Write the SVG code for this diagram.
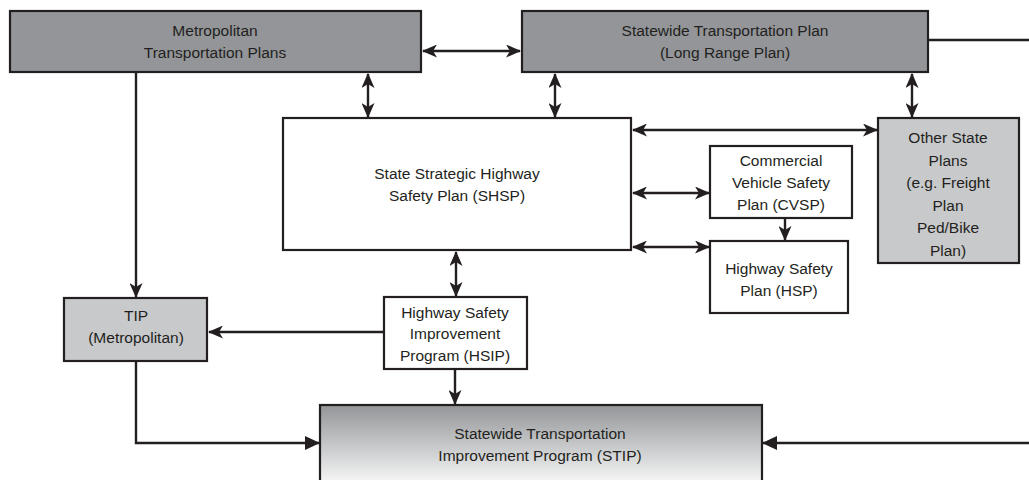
<svg xmlns="http://www.w3.org/2000/svg" width="1029" height="480" viewBox="0 0 1029 480">
<defs>
<style>
.box{stroke:#231f20;stroke-width:2.2}
.dark{fill:#939598}
.light{fill:#c8c9cb}
.white{fill:#ffffff}
text{font-family:"Liberation Sans",Arial,sans-serif;font-size:15.5px;fill:#231f20;text-anchor:middle}
.c{fill:none;stroke:#231f20;stroke-width:2.4}
</style>
<linearGradient id="g" x1="0" y1="0" x2="0" y2="1">
<stop offset="0" stop-color="#939598"/>
<stop offset="1" stop-color="#ffffff"/>
</linearGradient>
<marker id="ah" viewBox="0 0 15 13" refX="14" refY="6.5" markerWidth="15" markerHeight="13" markerUnits="userSpaceOnUse" orient="auto-start-reverse">
<path d="M0,0 L15,6.5 L0,13 L4,6.5 z" fill="#231f20"/>
</marker>
<marker id="tri" viewBox="0 0 15 14" refX="14" refY="7" markerWidth="15" markerHeight="14" markerUnits="userSpaceOnUse" orient="auto">
<path d="M0,0 L15,7 L0,14 z" fill="#231f20"/>
</marker>
</defs>
<g id="connectors">
<path class="c" d="M423,51 H520" marker-start="url(#ah)" marker-end="url(#ah)"/>
<path class="c" d="M368,74 V117" marker-start="url(#ah)" marker-end="url(#ah)"/>
<path class="c" d="M555,74 V117" marker-start="url(#ah)" marker-end="url(#ah)"/>
<path class="c" d="M912,74 V117" marker-start="url(#ah)" marker-end="url(#ah)"/>
<path class="c" d="M633,130 H877" marker-start="url(#ah)" marker-end="url(#ah)"/>
<path class="c" d="M633,193 H709" marker-start="url(#ah)" marker-end="url(#ah)"/>
<path class="c" d="M633,247 H709" marker-start="url(#ah)" marker-end="url(#ah)"/>
<path class="c" d="M785,219 V240" marker-end="url(#ah)"/>
<path class="c" d="M456,252 V296" marker-start="url(#ah)" marker-end="url(#ah)"/>
<path class="c" d="M384,332 H209" marker-end="url(#ah)"/>
<path class="c" d="M136,73 V297" marker-end="url(#ah)"/>
<path class="c" d="M136,362 V443 H319" marker-end="url(#tri)"/>
<path class="c" d="M455,370 V404" marker-end="url(#ah)"/>
<path class="c" d="M929,40 H1032 V443 H763" marker-end="url(#tri)"/>
</g>
<g id="metro">
<rect class="box dark" x="10" y="11" width="411" height="61"/>
<text x="215" y="36">Metropolitan</text>
<text x="215" y="58">Transportation Plans</text>
</g>
<g id="statewide">
<rect class="box dark" x="522" y="11" width="406" height="61"/>
<text x="725" y="36">Statewide Transportation Plan</text>
<text x="725" y="58">(Long Range Plan)</text>
</g>
<g id="shsp">
<rect class="box white" x="283" y="118" width="348" height="132"/>
<text x="457" y="179">State Strategic Highway</text>
<text x="457" y="201">Safety Plan (SHSP)</text>
</g>
<g id="cvsp">
<rect class="box white" x="710" y="146" width="142" height="72"/>
<text x="781" y="166">Commercial</text>
<text x="781" y="188">Vehicle Safety</text>
<text x="781" y="210">Plan (CVSP)</text>
</g>
<g id="hsp">
<rect class="box white" x="710" y="241" width="138" height="72"/>
<text x="779" y="274">Highway Safety</text>
<text x="779" y="296">Plan (HSP)</text>
</g>
<g id="other">
<rect class="box light" x="878" y="118" width="141" height="145"/>
<text x="948" y="143">Other State</text>
<text x="948" y="165.5">Plans</text>
<text x="948" y="188">(e.g. Freight</text>
<text x="948" y="210.5">Plan</text>
<text x="948" y="233">Ped/Bike</text>
<text x="948" y="255.5">Plan)</text>
</g>
<g id="tip">
<rect class="box light" x="64" y="298" width="143" height="63"/>
<text x="136" y="321">TIP</text>
<text x="136" y="343">(Metropolitan)</text>
</g>
<g id="hsip">
<rect class="box white" x="384" y="297" width="143" height="72"/>
<text x="455" y="318">Highway Safety</text>
<text x="455" y="339">Improvement</text>
<text x="455" y="361">Program (HSIP)</text>
</g>
<g id="stip">
<rect class="box" fill="url(#g)" x="320" y="405" width="442" height="85"/>
<text x="540" y="439">Statewide Transportation</text>
<text x="540" y="461">Improvement Program (STIP)</text>
</g>
</svg>
